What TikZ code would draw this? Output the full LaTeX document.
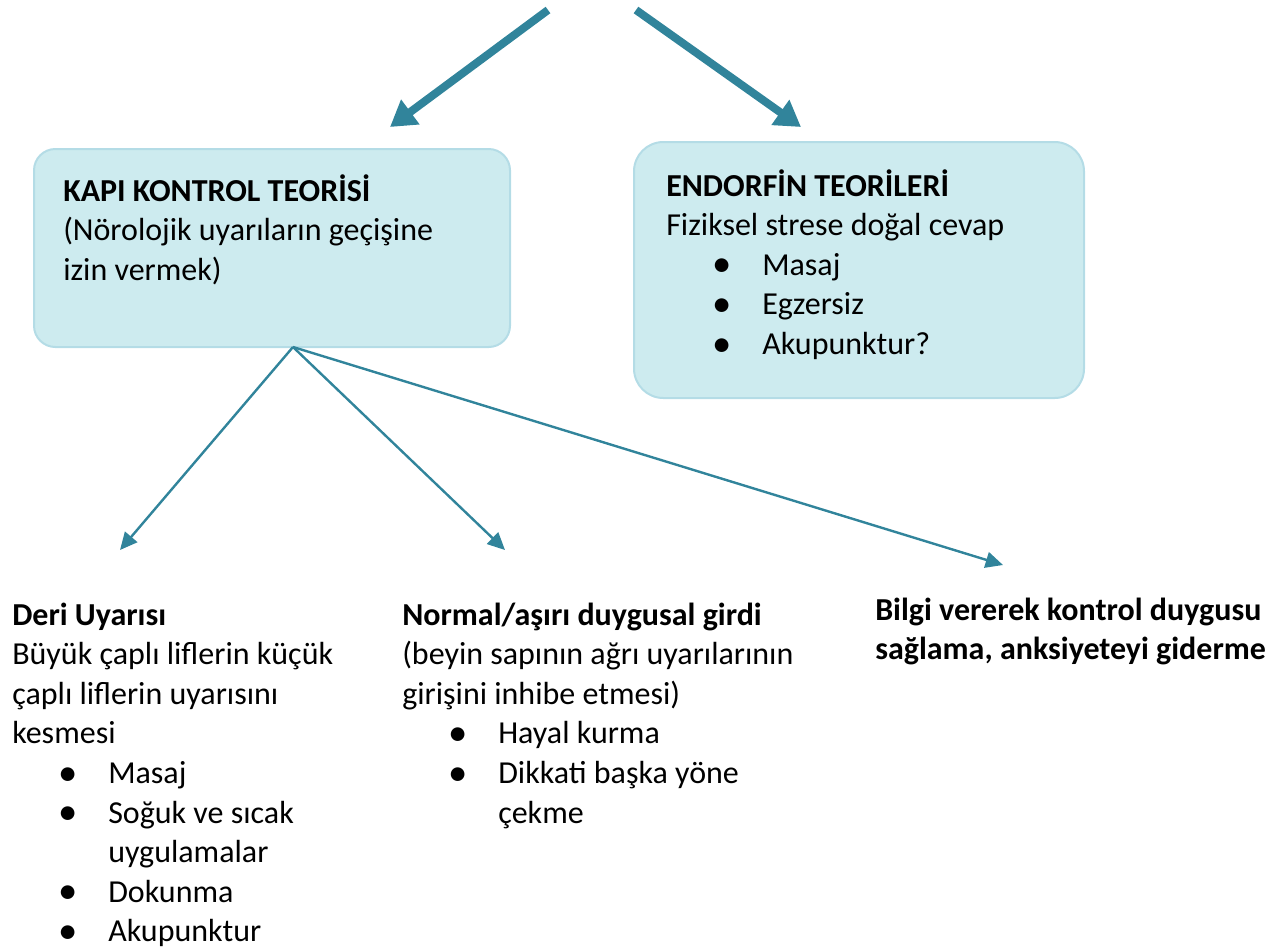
\documentclass[tikz,border=0pt]{standalone}
\usepackage{fontspec}
\setmainfont{Carlito}
\usetikzlibrary{arrows.meta,positioning}
\definecolor{tealarrow}{RGB}{49,132,155}
\definecolor{boxfill}{RGB}{205,235,239}
\definecolor{boxline}{RGB}{180,220,230}
% bullet items: dot at 42pt, text at 72pt
\newcommand{\blt}{\hspace*{42pt}\makebox[0pt][c]{\raisebox{-1.2pt}{\fontsize{29}{29}\selectfont\textbullet}}\hspace*{30pt}}
\newcommand{\bind}{\hspace*{72pt}}
% block of lines, baseline on the first line
\newcommand{\lines}[1]{\begin{tabular}[t]{@{}l@{}}#1\end{tabular}}
\tikzset{
  theory/.style={draw=boxline, line width=1.5pt, fill=boxfill, rounded corners=16pt},
  txt/.style={anchor=base west, inner sep=0pt, font=\fontsize{24}{29.7}\selectfont}
}
\begin{document}
\begin{tikzpicture}[x=0.75pt, y=-0.75pt,
    bigarrow/.style={tealarrow, line width=6pt, -{Triangle[length=19pt,width=22pt]}},
    smallarrow/.style={tealarrow, line width=1.8pt, -{Triangle[length=13pt,width=12pt]}}]
        \useasboundingbox (0,0) rectangle (1284,951);

        % Theory boxes
        \node[theory, minimum width=357pt, minimum height=148.5pt] (kapi) at (272,248) {};
        \node[theory, minimum width=337.5pt, minimum height=192pt, rounded corners=22pt] (endorfin) at (859,270) {};

        \node[txt] (kapitxt) at (63,201) {\lines{\textbf{KAPI KONTROL TEORİSİ}\\(Nörolojik uyarıların geçişine\\izin vermek)}};
        \node[txt] (endtxt) at (666,196) {\lines{\textbf{ENDORFİN TEORİLERİ}\\Fiziksel strese doğal cevap\\\blt Masaj\\\blt Egzersiz\\\blt Akupunktur?}};

        % Lower texts
        \node[txt] (deri) at (12,625) {\lines{\textbf{Deri Uyarısı}\\Büyük çaplı liflerin küçük\\çaplı liflerin uyarısını\\kesmesi\\\blt Masaj\\\blt Soğuk ve sıcak\\\bind uygulamalar\\\blt Dokunma\\\blt Akupunktur}};
        \node[txt] (normal) at (402,625) {\lines{\textbf{Normal/aşırı duygusal girdi}\\(beyin sapının ağrı uyarılarının\\girişini inhibe etmesi)\\\blt Hayal kurma\\\blt Dikkati başka yöne\\\bind çekme}};
        \node[txt] (bilgi) at (875,620) {\lines{\textbf{Bilgi vererek kontrol duygusu}\\\textbf{sağlama, anksiyeteyi giderme}}};

        % Arrow ends
        \coordinate (topl) at (548,10);
        \coordinate (topr) at (636,10);
        \coordinate (kapiin) at (390,127);
        \coordinate (endin) at (801,127);
        \coordinate (split) at (293,347);
        \coordinate (deriin) at (120,550);
        \coordinate (normalin) at (505,550);
        \coordinate (bilgiin) at (1003,565);

        \draw[bigarrow] (topl) -- (kapiin);
        \draw[bigarrow] (topr) -- (endin);

        \draw[smallarrow] (split) -- (deriin);
        \draw[smallarrow] (split) -- (normalin);
        \draw[smallarrow] (split) -- (bilgiin);
    \end{tikzpicture}
\end{document}
